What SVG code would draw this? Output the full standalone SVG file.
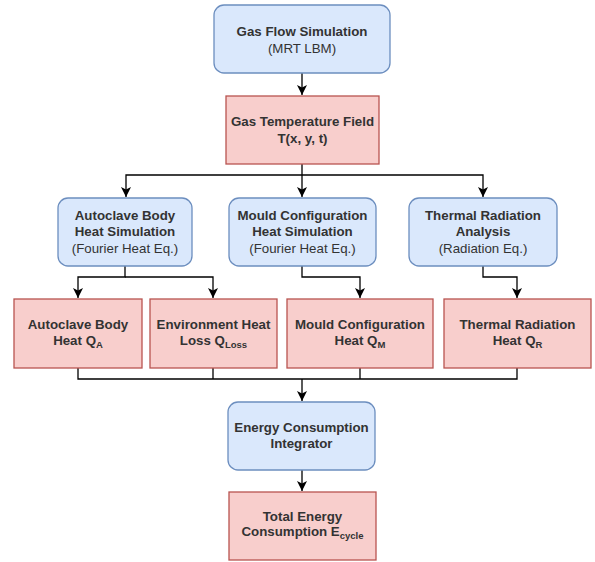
<svg xmlns="http://www.w3.org/2000/svg" width="595" height="562" viewBox="0 0 595 562">
<style>
.blue{fill:#dae8fc;stroke:#6c8ebf;stroke-width:1.3}
.red{fill:#f8cecc;stroke:#b85450;stroke-width:1.3}
text{font-family:"Liberation Sans",Arial,sans-serif;font-size:13.3px;fill:#333;text-anchor:middle}
.b{font-weight:bold}
.sub{font-size:9.5px;font-weight:bold}
.conn{fill:none;stroke:#000;stroke-width:1.3}
</style>
<defs>
<marker id="arr" markerUnits="userSpaceOnUse" markerWidth="12" markerHeight="12" refX="10" refY="5" orient="auto">
<path d="M0,0 L10,5 L0,10 L2.5,5 Z" fill="#000"/>
</marker>
</defs>
<rect width="595" height="562" fill="#fff"/>
<g id="connectors">
<path class="conn" d="M302,73 V95" marker-end="url(#arr)"/>
<path class="conn" d="M302,164 V197" marker-end="url(#arr)"/>
<path class="conn" d="M302,175 H126 V197" marker-end="url(#arr)"/>
<path class="conn" d="M302,175 H483 V197" marker-end="url(#arr)"/>
<path class="conn" d="M125,266 V277 H78 V298" marker-end="url(#arr)"/>
<path class="conn" d="M125,277 H213 V298" marker-end="url(#arr)"/>
<path class="conn" d="M302,266 V277 H360 V298" marker-end="url(#arr)"/>
<path class="conn" d="M483,266 V277 H517 V298" marker-end="url(#arr)"/>
<path class="conn" d="M78,368 V379 H517 V368 M213,368 V379 M360,368 V379"/>
<path class="conn" d="M302,379 V401" marker-end="url(#arr)"/>
<path class="conn" d="M302,470 V491" marker-end="url(#arr)"/>
</g>
<g id="gas-flow">
<rect class="blue" x="214" y="5" width="176" height="68" rx="10"/>
<text class="b" x="302" y="35.5">Gas Flow Simulation</text>
<text x="302" y="53">(MRT LBM)</text>
</g>
<g id="gas-temp">
<rect class="red" x="226" y="96" width="153" height="68"/>
<text class="b" x="302.5" y="126">Gas Temperature Field</text>
<text class="b" x="302.5" y="143">T(x, y, t)</text>
</g>
<g id="autoclave-sim">
<rect class="blue" x="58" y="198" width="134" height="68" rx="10"/>
<text class="b" x="125" y="219.5">Autoclave Body</text>
<text class="b" x="125" y="236">Heat Simulation</text>
<text x="125" y="252.5">(Fourier Heat Eq.)</text>
</g>
<g id="mould-sim">
<rect class="blue" x="229" y="198" width="147" height="68" rx="10"/>
<text class="b" x="302.5" y="219.5">Mould Configuration</text>
<text class="b" x="302.5" y="236">Heat Simulation</text>
<text x="302.5" y="252.5">(Fourier Heat Eq.)</text>
</g>
<g id="radiation-sim">
<rect class="blue" x="409" y="198" width="148" height="68" rx="10"/>
<text class="b" x="483" y="219.5">Thermal Radiation</text>
<text class="b" x="483" y="236">Analysis</text>
<text x="483" y="252.5">(Radiation Eq.)</text>
</g>
<g id="autoclave-heat">
<rect class="red" x="14" y="299" width="128" height="69"/>
<text class="b" x="78" y="329">Autoclave Body</text>
<text class="b" x="78" y="345">Heat Q<tspan class="sub" dy="3">A</tspan></text>
</g>
<g id="env-loss">
<rect class="red" x="150" y="299" width="127" height="69"/>
<text class="b" x="213.5" y="329">Environment Heat</text>
<text class="b" x="213.5" y="345">Loss Q<tspan class="sub" dy="3">Loss</tspan></text>
</g>
<g id="mould-heat">
<rect class="red" x="287" y="299" width="146" height="69"/>
<text class="b" x="360" y="329">Mould Configuration</text>
<text class="b" x="360" y="345">Heat Q<tspan class="sub" dy="3">M</tspan></text>
</g>
<g id="radiation-heat">
<rect class="red" x="444" y="299" width="147" height="69"/>
<text class="b" x="517.5" y="329">Thermal Radiation</text>
<text class="b" x="517.5" y="345">Heat Q<tspan class="sub" dy="3">R</tspan></text>
</g>
<g id="integrator">
<rect class="blue" x="228" y="402" width="147" height="68" rx="10"/>
<text class="b" x="301.5" y="431.5">Energy Consumption</text>
<text class="b" x="301.5" y="448">Integrator</text>
</g>
<g id="total-energy">
<rect class="red" x="229" y="492" width="147" height="68"/>
<text class="b" x="302.5" y="520.5">Total Energy</text>
<text class="b" x="302.5" y="536">Consumption E<tspan class="sub" dy="3">cycle</tspan></text>
</g>
</svg>
